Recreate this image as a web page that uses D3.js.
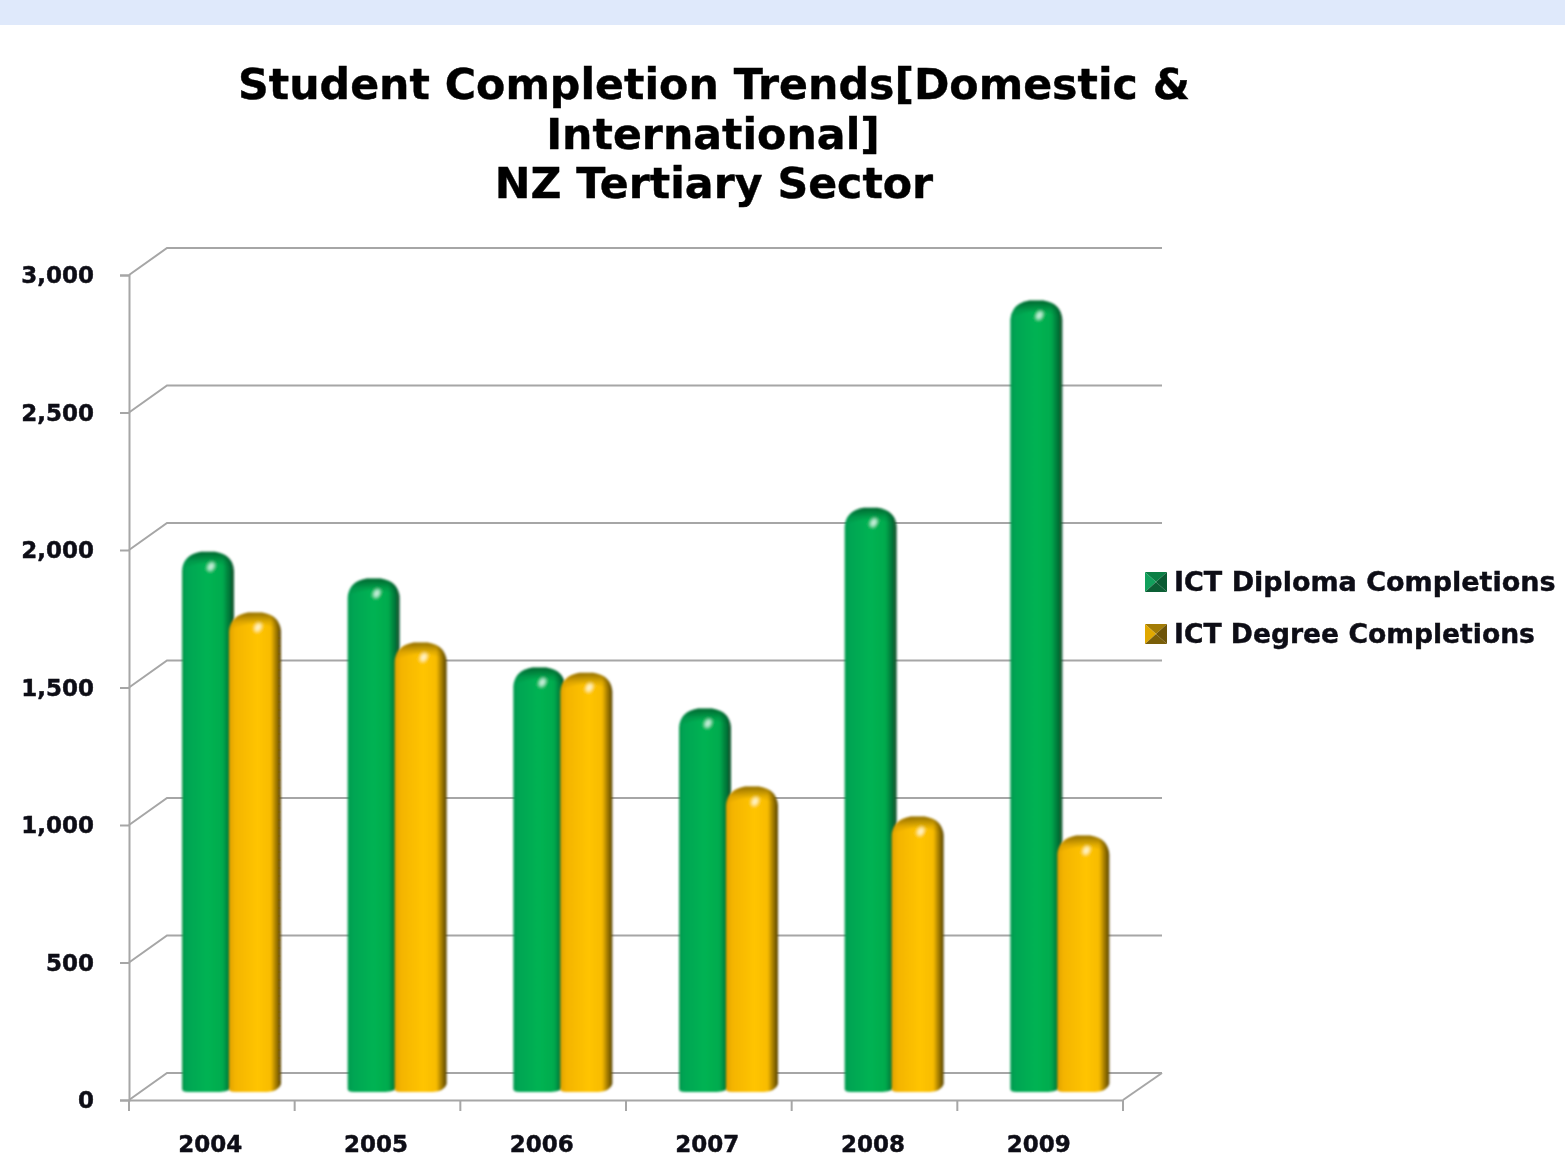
<!DOCTYPE html>
<html>
<head>
  <title>Student Completion Trends</title>
  <script type="text/javascript" src="https://d3js.org/d3.v7.min.js"></script>
  <style>
    html, body { margin: 0; padding: 0; background: #fff; }
    svg { display: block; }
    text { font-family: "DejaVu Sans", sans-serif; font-weight: bold; fill: #0a0a14; stroke: #0a0a14; stroke-width: 0.4px; }
  </style>
</head>
<body>
  <div id="container"></div>
  <script type="text/javascript">
    var years = ['2004', '2005', '2006', '2007', '2008', '2009'];
    var diploma = [1945, 1847, 1524, 1375, 2105, 2858];
    var degree = [1724, 1615, 1505, 1091, 982, 913];
    var seriesNames = ['ICT Diploma Completions', 'ICT Degree Completions'];
    var yTicks = [0, 500, 1000, 1500, 2000, 2500, 3000];
    var titleLines = ['Student Completion Trends[Domestic &', 'International]', 'NZ Tertiary Sector'];

    var width = 1565, height = 1173;
    var depthX = 38, depthY = 27;
    var plotLeft = 129, plotRight = 1123, plotBottom = 1100, plotTop = 275;
    var barW = 52, barStep = 47, capR = 19;

    var svg = d3.select('#container').append('svg')
      .attr('width', width)
      .attr('height', height);

    var defs = svg.append('defs');

    function barGradient(id, stops) {
      var g = defs.append('linearGradient').attr('id', id);
      stops.forEach(function (s) {
        g.append('stop').attr('offset', s[0]).attr('stop-color', s[1]);
      });
    }
    barGradient('greenBar', [[0, '#0a9a50'], [0.1, '#00a552'], [0.5, '#00b352'], [0.78, '#00ab4e'], [0.9, '#047a3a'], [1, '#0b4f2b']]);
    barGradient('yellowBar', [[0, '#e0a200'], [0.12, '#f4b400'], [0.55, '#ffc400'], [0.8, '#f8bc00'], [0.9, '#a67e06'], [1, '#574307']]);

    var capShade = defs.append('linearGradient').attr('id', 'capShade')
      .attr('x1', 0).attr('x2', 0).attr('y1', 0).attr('y2', 1);
    capShade.append('stop').attr('offset', 0).attr('stop-color', '#000').attr('stop-opacity', 0.42);
    capShade.append('stop').attr('offset', 0.6).attr('stop-color', '#000').attr('stop-opacity', 0.08);
    capShade.append('stop').attr('offset', 1).attr('stop-color', '#000').attr('stop-opacity', 0);

    defs.append('filter').attr('id', 'soft').append('feGaussianBlur').attr('stdDeviation', 0.8);
    defs.append('filter').attr('id', 'glow').append('feGaussianBlur').attr('stdDeviation', 1.8);
    defs.append('filter').attr('id', 'textSoft').append('feGaussianBlur').attr('stdDeviation', 0.35);

    svg.append('rect')
      .attr('width', width)
      .attr('height', 25)
      .attr('fill', '#dfe9fb');

    var y = d3.scaleLinear().domain([0, 3000]).range([plotBottom, plotTop]);
    var x = d3.scaleBand().domain(years).range([plotLeft, plotRight]);

    // walls and floor
    var wall = svg.append('g').attr('fill', 'none').attr('stroke', '#a6a6a6').attr('stroke-width', 2);
    wall.selectAll('path.grid')
      .data(yTicks)
      .enter()
      .append('path')
      .attr('class', 'grid')
      .attr('d', function (d) {
        return `M${plotLeft},${y(d)} L${plotLeft + depthX},${y(d) - depthY} L${plotRight + depthX + 1},${y(d) - depthY}`;
      });
    wall.append('path')
      .attr('d', `M${plotRight},${plotBottom} L${plotRight + depthX + 1},${plotBottom - depthY}`);

    // axes
    var yAxis = svg.append('g')
      .attr('transform', `translate(${plotLeft},0)`)
      .call(d3.axisLeft(y).tickValues(yTicks).tickFormat(d3.format(',')).tickSize(9).tickPadding(27));
    var xAxis = svg.append('g')
      .attr('transform', `translate(0,${plotBottom})`)
      .call(d3.axisBottom(x).tickSize(0).tickPadding(36));
    xAxis.selectAll('.tick line').remove();
    xAxis.selectAll('.tick-edge')
      .data(d3.range(years.length + 1))
      .enter()
      .append('line')
      .attr('class', 'tick-edge')
      .attr('x1', function (i) { return plotLeft + i * x.step(); })
      .attr('x2', function (i) { return plotLeft + i * x.step(); })
      .attr('y1', 0)
      .attr('y2', 11)
      .attr('stroke', '#a6a6a6')
      .attr('stroke-width', 2);
    [yAxis, xAxis].forEach(function (a) {
      a.selectAll('.domain').attr('stroke', '#a6a6a6').attr('stroke-width', 2);
      a.selectAll('.tick line').attr('stroke', '#a6a6a6').attr('stroke-width', 2);
      a.selectAll('text').style('font-size', '23px').attr('fill', '#0a0a14').attr('filter', 'url(#textSoft)');
    });
    yAxis.selectAll('text').attr('dy', '0.34em').attr('dx', '1');
    xAxis.selectAll('text').attr('dx', '-1.5');

    // bars sit half way into the chart depth
    function barPath(bx, v) {
      var t = y(v) - depthY / 2;
      var b = plotBottom - 8;
      return `M${bx},${b - 3} L${bx},${t + capR}`
        + ` Q${bx + 1},${t + 3} ${bx + capR},${t}`
        + ` L${bx + barW - capR},${t} Q${bx + barW - 1},${t + 3} ${bx + barW},${t + capR}`
        + ` L${bx + barW},${b - 8} Q${bx + barW - 2},${b - 1} ${bx + barW - 14},${b}`
        + ` L${bx + 6},${b} Q${bx},${b} ${bx},${b - 3} Z`;
    }

    function drawBars(values, offset, fill, group) {
      var bars = group.selectAll('g.bar')
        .data(values)
        .enter()
        .append('g')
        .attr('class', 'bar')
        .attr('filter', 'url(#soft)');
      var bx = function (d, i) { return x(years[i]) + offset; };
      bars.append('path')
        .attr('d', function (d, i) { return barPath(bx(d, i), d); })
        .attr('fill', fill);
      bars.append('path')
        .attr('d', function (d, i) {
          var t = y(d) - depthY / 2, l = bx(d, i);
          return `M${l + 1},${t + 17} Q${l + 2},${t + 3} ${l + capR},${t}`
            + ` L${l + barW - capR},${t} Q${l + barW - 1},${t + 3} ${l + barW - 1},${t + 17}`
            + ` Q${l + barW / 2},${t + 5} ${l + 1},${t + 17} Z`;
        })
        .attr('fill', 'url(#capShade)');
      bars.append('ellipse')
        .attr('cx', function (d, i) { return bx(d, i) + 29; })
        .attr('cy', function (d) { return y(d) - depthY / 2 + 15; })
        .attr('rx', 3.5)
        .attr('ry', 5)
        .attr('fill', '#ffffff')
        .attr('opacity', 0.8)
        .attr('transform', function (d, i) {
          return `rotate(30,${bx(d, i) + 29},${y(d) - depthY / 2 + 15})`;
        })
        .attr('filter', 'url(#glow)');
    }

    var barLayer = svg.append('g');
    drawBars(diploma, 53, 'url(#greenBar)', barLayer.append('g'));
    drawBars(degree, 53 + barStep, 'url(#yellowBar)', barLayer.append('g'));

    // title
    svg.append('g')
      .attr('filter', 'url(#textSoft)')
      .selectAll('text')
      .data(titleLines)
      .enter()
      .append('text')
      .attr('x', function (d, i) { return i === 1 ? 713 : 714; })
      .attr('y', function (d, i) { return 99 + i * 49.5; })
      .attr('text-anchor', 'middle')
      .style('font-size', '42.7px')
      .style('fill', '#000')
      .style('stroke', '#000')
      .text(function (d) { return d; });

    // legend, bevelled swatch: top, left, bottom, right faces
    var legendColours = [['#0b7f45', '#12a05c', '#0c5f35', '#0a5a32'], ['#a37c06', '#e0a800', '#7a5e08', '#6e5408']];
    var legend = svg.append('g')
      .selectAll('g')
      .data(seriesNames)
      .enter()
      .append('g')
      .attr('transform', function (d, i) { return `translate(1145,${572 + i * 52})`; });
    legend.each(function (d, i) {
      var g = d3.select(this), s = 22, h = 20, c = legendColours[i];
      var cx = s / 2, cy = h / 2;
      g.append('path').attr('d', `M0,0 L${s},0 L${cx},${cy} Z`).attr('fill', c[0]);
      g.append('path').attr('d', `M0,0 L0,${h} L${cx},${cy} Z`).attr('fill', c[1]);
      g.append('path').attr('d', `M0,${h} L${s},${h} L${cx},${cy} Z`).attr('fill', c[2]);
      g.append('path').attr('d', `M${s},0 L${s},${h} L${cx},${cy} Z`).attr('fill', c[3]);
      g.append('text')
        .attr('x', 29)
        .attr('y', 19)
        .attr('filter', 'url(#textSoft)')
        .style('font-size', i === 0 ? '27px' : '26.6px')
        .text(d);
    });
  </script>
</body>
</html>
